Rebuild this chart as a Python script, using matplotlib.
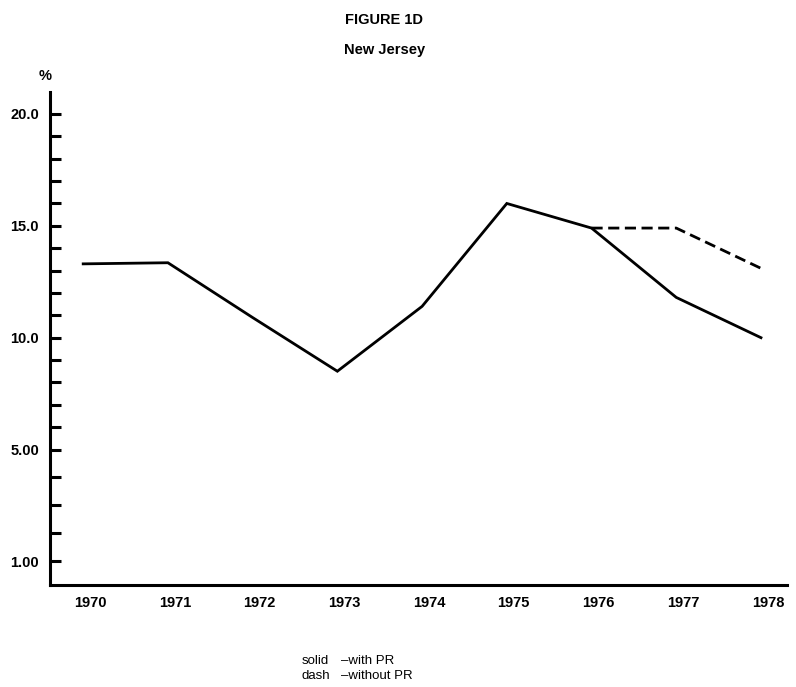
import matplotlib
matplotlib.use('Agg')
import matplotlib.pyplot as plt
import matplotlib.transforms as transforms

# (y in the chart's own plotted units;
# the bottom label "1.00" sits where 0 would be on a linear scale)
years = [1970, 1971, 1972, 1973, 1974, 1975, 1976, 1977, 1978]
with_pr = [13.3, 13.35, 10.9, 8.5, 11.4, 16.0, 14.9, 11.8, 10.0]
dash_years = [1976, 1977, 1978]
without_pr = [14.9, 14.9, 13.1]

major_pos = [0, 5, 10, 15, 20]
major_labels = ['1.00', '5.00', '10.0', '15.0', '20.0']
minor_pos = [1.25, 2.5, 3.75] + [v for v in range(6, 20) if v % 5 != 0]

plt.rcParams['font.family'] = ['Liberation Sans', 'DejaVu Sans']

fig = plt.figure(figsize=(7.96, 6.87), dpi=100)
ax = fig.add_axes([0.063, 0.148, 0.926, 0.718])

ax.plot(years, with_pr, color='black', lw=2.0, solid_joinstyle='miter')
ax.plot(dash_years, without_pr, color='black', lw=2.0, linestyle=(0, (4, 2)))

ax.set_xlim(1969.61, 1978.31)
ax.set_ylim(-1.07, 20.98)

for side in ['top', 'right']:
    ax.spines[side].set_visible(False)
for side in ['left', 'bottom']:
    ax.spines[side].set_linewidth(2.2)

ax.set_yticks(major_pos)
ax.set_yticklabels(major_labels, fontsize=10.5, fontweight='bold')
ax.set_yticks(minor_pos, minor=True)
ax.tick_params(axis='y', which='both', direction='in', length=8, width=2.2, pad=8)

ax.set_xticks(years)
ax.set_xticklabels([str(y) for y in years], fontsize=10.5, fontweight='bold')
ax.tick_params(axis='x', length=0, pad=8)
shift = transforms.ScaledTranslation(0.07, 0, fig.dpi_scale_trans)
for lab in ax.get_xticklabels():
    lab.set_transform(lab.get_transform() + shift)

fig.text(0.482, 0.971, 'FIGURE 1D', ha='center', va='center',
         fontsize=10.5, fontweight='bold')
fig.text(0.483, 0.927, 'New Jersey', ha='center', va='center',
         fontsize=10.5, fontweight='bold')
fig.text(0.057, 0.89, '%', ha='center', va='center', fontsize=10.5, fontweight='bold')

fig.text(0.379, 0.038, 'solid', ha='left', va='center', fontsize=9.5)
fig.text(0.429, 0.038, '–with PR', ha='left', va='center', fontsize=9.5)
fig.text(0.379, 0.016, 'dash', ha='left', va='center', fontsize=9.5)
fig.text(0.429, 0.016, '–without PR', ha='left', va='center', fontsize=9.5)

fig.savefig('out.png', dpi=100, facecolor='white')
